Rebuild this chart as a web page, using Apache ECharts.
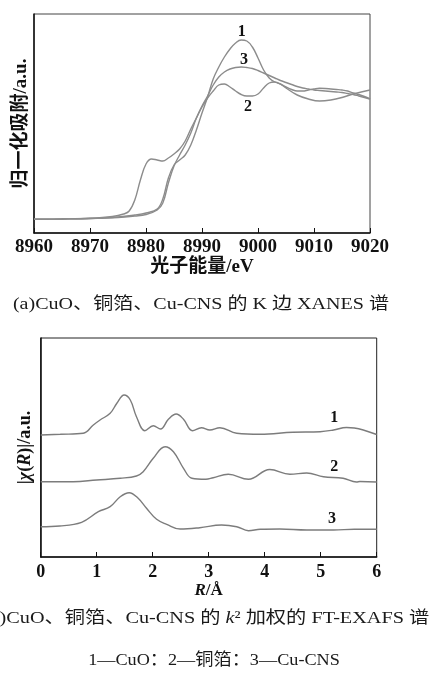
<!DOCTYPE html>
<html>
<head>
<meta charset="utf-8">
<script src="https://cdn.jsdelivr.net/npm/echarts@6/dist/echarts.min.js"></script>
<style>
html,body{margin:0;padding:0;background:#fff;}
#c{width:431px;height:677px;}
</style>
</head>
<body>
<div id="c"></div>
<script>
// ---------- (a) XANES : photon energy (eV) vs normalized absorption (a.u.)
const xanesCuO = [[8960,13.7],[8965,14],[8970,14.5],[8975,16],[8978,18],[8980,20],[8982,24],[8983,34],[8984,55],[8985,68],[8986,73],[8987,78],[8988,88],[8989,103],[8990,120],[8991,136],[8992,154],[8993,166],[8994,176],[8995,184],[8996,190],[8997,193],[8998,192],[8999,186],[9000,175],[9001,163],[9002,155],[9003,151],[9004,149],[9005,146],[9006,143.5],[9007,142],[9008,142],[9009,143],[9010,144],[9011,144.7],[9012,144.5],[9013,144],[9014,143.5],[9015,143],[9016,142],[9017,140],[9018,138.5],[9019,136.5],[9020,134]];
const xanesCuFoil = [[8960,13.7],[8965,14],[8970,14.7],[8974,16.5],[8976,19],[8977,22],[8978,33],[8979,53],[8980,69],[8981,74],[8982,73],[8983,72],[8984,75],[8985,79],[8986,84],[8987,92],[8988,104],[8989,115],[8990,126],[8991,135],[8992,142],[8993,148],[8994,149],[8995,146],[8996,142],[8997,138.5],[8998,137],[8999,137],[9000,139],[9001,145],[9002,150],[9003,151],[9004,149],[9005,145],[9007,138],[9009,134],[9011,132],[9013,133],[9015,135.5],[9017,139],[9020,143]];
const xanesCuCNS = [[8960,13.7],[8965,14],[8970,14.5],[8975,15.5],[8978,17],[8980,18.5],[8982,23],[8983,30],[8984,50],[8985,67],[8986,78],[8987,88],[8988,100],[8989,115],[8990,127],[8991,137],[8992,148],[8993,156],[8994,161],[8995,164],[8996,165.5],[8997,166],[8998,165.5],[8999,164.5],[9000,162.5],[9001,160],[9002,157.5],[9003,155],[9004,152.5],[9005,150.5],[9006,148.5],[9007,146.5],[9008,145],[9009,144],[9010,143],[9011,142.5],[9012,142],[9013,141.5],[9014,141],[9015,140.5],[9016,139.5],[9017,138.5],[9018,137],[9019,135.5],[9020,134]];
const xanesLabels = [["1",8997.1,201],["3",8997.5,173],["2",8998.2,126]];
const xanesTicks = [8960,8970,8980,8990,9000,9010,9020];

// ---------- (b) FT-EXAFS : R (Å) vs |χ(R)| (a.u., offset)
const exafsCuO = [[0,122],[0.35,122.7],[0.76,123.7],[0.94,132],[1.06,137],[1.24,143.7],[1.36,153.7],[1.49,162],[1.6,157],[1.71,140.3],[1.86,126.3],[2.01,131.3],[2.14,128],[2.28,137.7],[2.42,143],[2.55,137.7],[2.71,126.3],[2.87,129.3],[3.02,127],[3.2,129.3],[3.5,123.7],[3.92,122.7],[4.5,124.7],[4.99,125.3],[5.23,127],[5.46,129.5],[5.6,129],[5.76,127],[6,122.5]];
const exafsCuFoil = [[0,75.3],[0.58,75.3],[1.0,77],[1.42,78.7],[1.71,81],[1.83,85.3],[2.01,98.7],[2.22,110.3],[2.37,105.3],[2.55,88.7],[2.7,78.7],[2.95,77.7],[3.08,79.3],[3.35,82.7],[3.71,77.7],[4.09,87.5],[4.45,82.7],[4.75,84],[5.05,80.3],[5.4,78.7],[5.64,75],[5.7,75.5],[6,75]];
const exafsCuCNS = [[0,30.3],[0.34,31],[0.73,34.7],[1.03,45.3],[1.24,50.3],[1.42,60.3],[1.58,64.3],[1.74,58.7],[1.89,48.7],[2.07,37.7],[2.25,32.7],[2.49,28],[2.84,29.3],[3.23,32],[3.5,30.3],[3.71,26.3],[3.92,27.7],[4.27,28],[4.75,27],[5.23,27],[5.6,27.7],[6,27.7]];
const exafsLabels = [["1",5.24,139],["2",5.24,90],["3",5.2,38]];
const exafsTicks = [0,1,2,3,4,5,6];

const captionA = "(a)CuO、铜箔、Cu-CNS 的 K 边 XANES 谱";
const captionB = "(b)CuO、铜箔、Cu-CNS 的 {i|k}² 加权的 FT-EXAFS 谱";
const legendLine = "1—CuO：2—铜箔：3—Cu-CNS";

const SERIF = "'Liberation Serif','Noto Sans CJK SC',serif";
const chart = echarts.init(document.getElementById('c'), null, {renderer:'canvas'});

function lineSeries(data, xi, color, labels){
  return {
    type:'line', xAxisIndex:xi, yAxisIndex:xi, data:data, smooth:0.4,
    showSymbol:false, symbol:'none',
    lineStyle:{color:color, width:1.4},
    silent:true, animation:false, z:3,
    markPoint: labels ? {
      symbol:'circle', symbolSize:0, silent:true, animation:false,
      label:{show:true, formatter:p=>p.name, color:'#111', fontFamily:SERIF, fontWeight:'bold', fontSize:16, position:'inside'},
      data: labels.map(l=>({name:l[0], coord:[l[1],l[2]]}))
    } : undefined
  };
}

const plain = v => String(v);

chart.setOption({
  animation:false,
  backgroundColor:'#fff',
  grid:[
    {left:34, top:14, width:336, height:219, show:true, borderColor:'#444', borderWidth:1, backgroundColor:'transparent'},
    {left:40.7, top:338, width:336, height:219, show:true, borderColor:'#222', borderWidth:1, backgroundColor:'transparent'}
  ],
  xAxis:[
    {type:'value', gridIndex:0, min:xanesTicks[0], max:xanesTicks[xanesTicks.length-1], interval:10,
     axisLine:{show:true, lineStyle:{color:'#111', width:1.5}},
     axisTick:{show:true, inside:true, length:5, lineStyle:{color:'#111', width:1}},
     splitLine:{show:false},
     axisLabel:{margin:5, formatter:plain, color:'#111', fontFamily:SERIF, fontWeight:'bold', fontSize:19},
     name:'光子能量/eV', nameLocation:'middle', nameGap:21,
     nameTextStyle:{color:'#111', fontFamily:SERIF, fontWeight:'bold', fontSize:19}},
    {type:'value', gridIndex:1, min:exafsTicks[0], max:exafsTicks[exafsTicks.length-1], interval:1,
     axisLine:{show:true, lineStyle:{color:'#111', width:1.5}},
     axisTick:{show:true, inside:true, length:5, lineStyle:{color:'#111', width:1}},
     splitLine:{show:false},
     axisLabel:{margin:6, formatter:plain, color:'#111', fontFamily:SERIF, fontWeight:'bold', fontSize:18},
     name:'{ri|R}/Å', nameLocation:'middle', nameGap:24,
     nameTextStyle:{color:'#111', fontFamily:SERIF, fontWeight:'bold', fontSize:17,
       rich:{ri:{fontFamily:SERIF, fontWeight:'bold', fontStyle:'italic', fontSize:17, color:'#111'}}}}
  ],
  yAxis:[
    {type:'value', gridIndex:0, min:0, max:219,
     axisLine:{show:true, lineStyle:{color:'#111', width:1.5}}, axisTick:{show:false},
     axisLabel:{show:false}, splitLine:{show:false},
     name:'归一化吸附/a.u.', nameLocation:'middle', nameGap:3, nameRotate:90,
     nameTextStyle:{color:'#111', fontFamily:SERIF, fontWeight:'bold', fontSize:19}},
    {type:'value', gridIndex:1, min:0, max:219,
     axisLine:{show:true, lineStyle:{color:'#111', width:1.5}}, axisTick:{show:false},
     axisLabel:{show:false}, splitLine:{show:false},
     name:'|{gi|χ}({gi|R})|/a.u.', nameLocation:'middle', nameGap:6, nameRotate:90,
     nameTextStyle:{color:'#111', fontFamily:SERIF, fontWeight:'bold', fontSize:18,
       rich:{gi:{fontFamily:SERIF, fontWeight:'bold', fontStyle:'italic', fontSize:18, color:'#111'}}}}
  ],
  series:[
    lineSeries(xanesCuO, 0, '#8c8c8c', xanesLabels),
    lineSeries(xanesCuFoil, 0, '#8c8c8c'),
    lineSeries(xanesCuCNS, 0, '#8c8c8c'),
    lineSeries(exafsCuO, 1, '#7c7c7c', exafsLabels),
    lineSeries(exafsCuFoil, 1, '#7c7c7c'),
    lineSeries(exafsCuCNS, 1, '#7c7c7c')
  ],
  graphic:[
    {type:'text', x:201, y:305, scaleX:1.18, silent:true,
     style:{x:0, y:0, text:captionA, fill:'#1a1a1a', font:'17px '+SERIF, textAlign:'center', textVerticalAlign:'middle'}},
    {type:'text', x:206, y:619, scaleX:1.19, silent:true,
     style:{x:0, y:0, text:captionB, fill:'#1a1a1a', font:'17px '+SERIF, textAlign:'center', textVerticalAlign:'middle',
       rich:{i:{fontStyle:'italic', fontFamily:SERIF, fontSize:17}}}},
    {type:'text', x:214, y:661, scaleX:1.07, silent:true,
     style:{x:0, y:0, text:legendLine, fill:'#1a1a1a', font:'17px '+SERIF, textAlign:'center', textVerticalAlign:'middle'}}
  ]
});
</script>
</body>
</html>
